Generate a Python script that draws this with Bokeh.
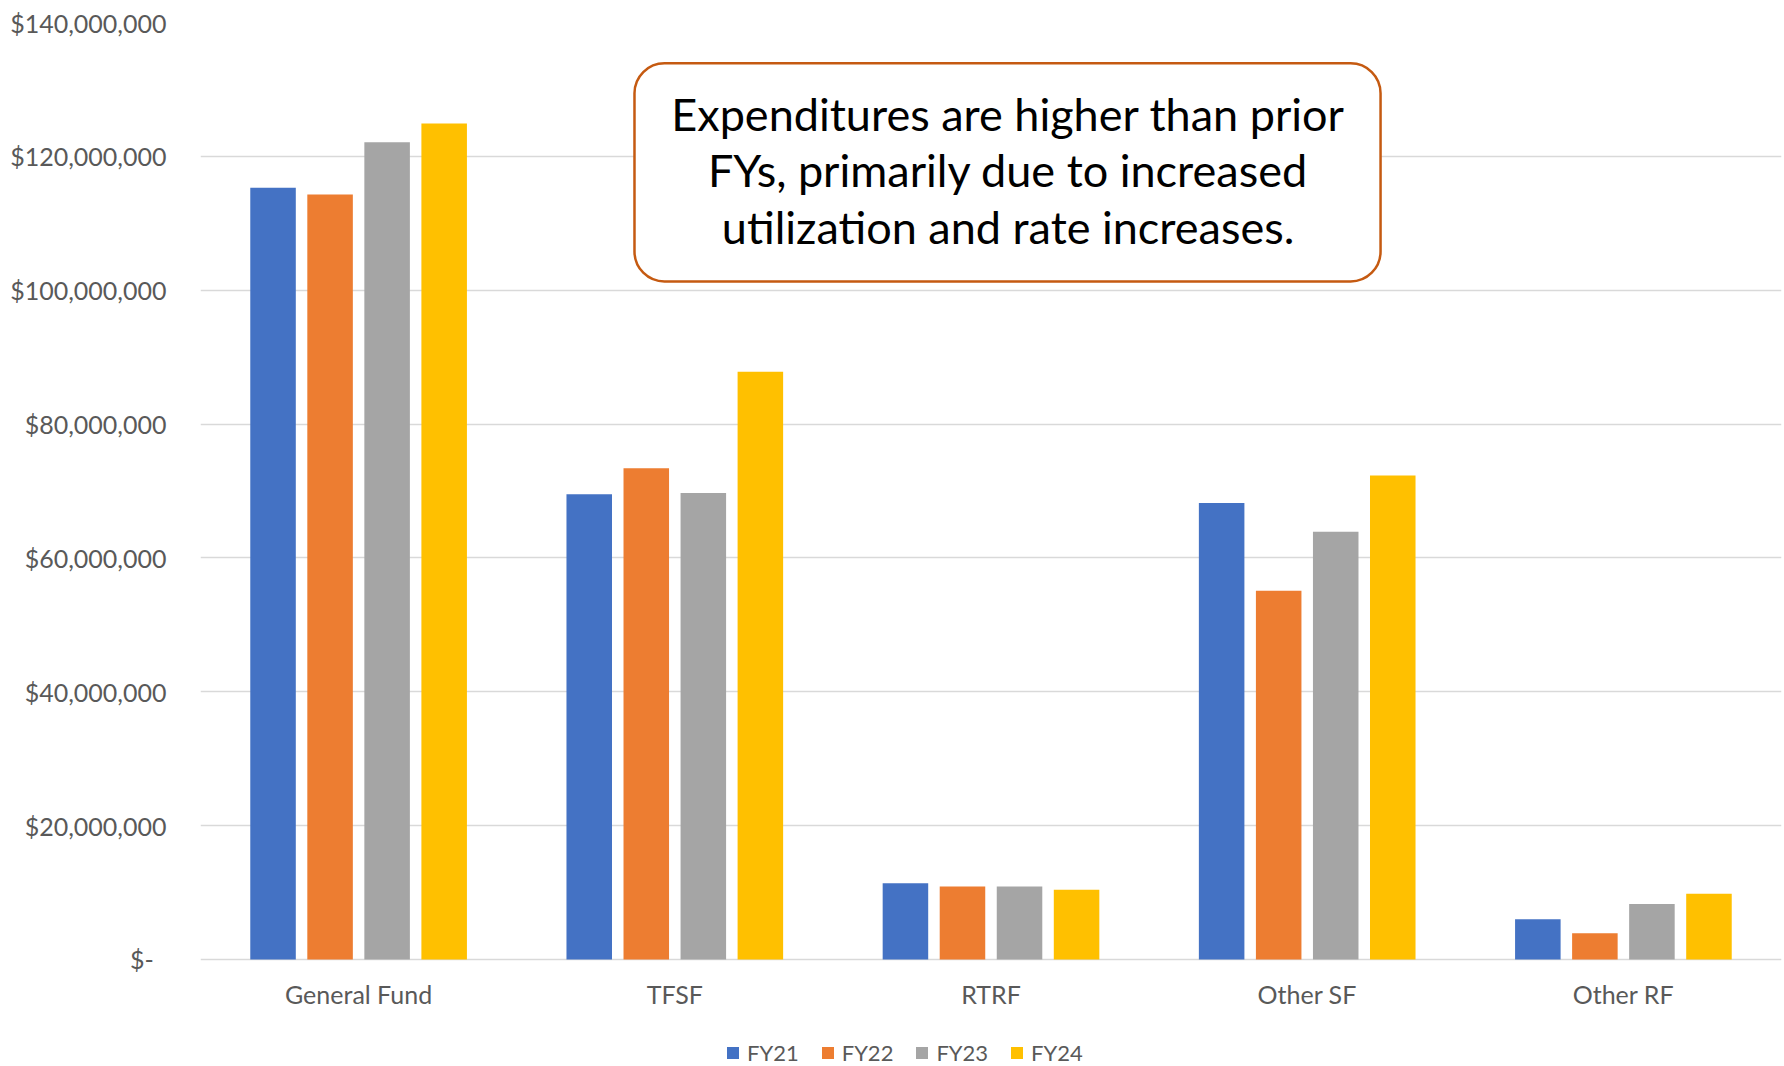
from bokeh.plotting import figure
from bokeh.models import (ColumnDataSource, FactorRange, Range1d, SingleIntervalTicker,
                          NumeralTickFormatter, BoxAnnotation, Label, Legend, LegendItem)
from bokeh.transform import dodge
from bokeh.core.properties import value
from bokeh.embed import file_html
from bokeh.resources import INLINE

categories = ["General Fund", "TFSF", "RTRF", "Other SF", "Other RF"]
fy21 = [115.3e6, 69.5e6, 11.4e6, 68.2e6, 6.0e6]
fy22 = [114.3e6, 73.4e6, 10.9e6, 55.1e6, 3.9e6]
fy23 = [122.1e6, 69.7e6, 10.9e6, 63.9e6, 8.3e6]
fy24 = [124.9e6, 87.8e6, 10.4e6, 72.3e6, 9.8e6]
series_names = ["FY21", "FY22", "FY23", "FY24"]
colors = ["#4472C4", "#ED7D31", "#A5A5A5", "#FFC000"]
note_lines = ["Expenditures are higher than prior",
              "FYs, primarily due to increased",
              "utilization and rate increases."]

source = ColumnDataSource(dict(cat=categories, FY21=fy21, FY22=fy22, FY23=fy23, FY24=fy24))

FONT = "Lato"
GREY = "#595959"

# frame extends to the bottom of the canvas; the area below $0 holds the
# category labels and the legend
p = figure(x_range=FactorRange(*categories, range_padding=0),
           y_range=Range1d(-16e6, 140e6),
           width=1784, height=1066, x_axis_location=None,
           output_backend="svg", toolbar_location=None,
           min_border_left=200, min_border_right=3, min_border_top=22,
           min_border_bottom=0)
p.outline_line_color = None
p.background_fill_color = "white"
p.border_fill_color = "white"

step = 0.1804
bw = 0.144
offsets = [-1.5 * step, -0.5 * step, 0.5 * step, 1.5 * step]
items = []
for name, col, off in zip(series_names, colors, offsets):
    r = p.vbar(x=dodge("cat", off, range=p.x_range), top=name, width=bw, source=source,
               fill_color=col, line_color=None)
    items.append(LegendItem(label=name, renderers=[r]))

# category labels under the baseline
p.text(x="cat", y=-5.2e6, text="cat", source=source, text_align="center",
       text_baseline="middle", text_font=value(FONT), text_font_size="25px",
       text_color=GREY)

# y axis
p.yaxis.ticker = SingleIntervalTicker(interval=20e6)
p.yaxis.formatter = NumeralTickFormatter(format="$0,0")
p.yaxis.major_label_overrides = {0: "$-\u00a0\u00a0"}
p.yaxis.axis_line_color = None
p.yaxis.major_tick_line_color = None
p.yaxis.minor_tick_line_color = None
p.yaxis.major_label_standoff = 28
p.yaxis.major_label_text_font = FONT
p.yaxis.major_label_text_font_size = "25px"
p.yaxis.major_label_text_color = GREY

p.xgrid.grid_line_color = None
p.ygrid.grid_line_color = "#D9D9D9"
p.ygrid.grid_line_width = 1.5

# legend
leg = Legend(items=items, orientation="horizontal", location=(525, 0),
             border_line_color=None, background_fill_alpha=0,
             label_text_font=FONT, label_text_font_size="22px", label_text_color=GREY,
             glyph_width=15, glyph_height=15, label_standoff=7, spacing=21,
             padding=0, margin=0)
p.add_layout(leg, "center")

# annotation box
box = BoxAnnotation(left=1.3725, right=3.732, top=133.9e6, bottom=101.3e6,
                    fill_color="white", fill_alpha=1.0,
                    line_color="#C55A11", line_alpha=1.0, line_width=2.5, border_radius=30)
p.add_layout(box)
ys = [126.4e6, 117.9e6, 109.4e6]
for t, yv in zip(note_lines, ys):
    p.add_layout(Label(x=2.554, y=yv, text=t, text_align="center", text_baseline="middle",
                       text_font=FONT, text_font_size="45px", text_color="black"))

open("out.html", "w").write(file_html(p, INLINE))
